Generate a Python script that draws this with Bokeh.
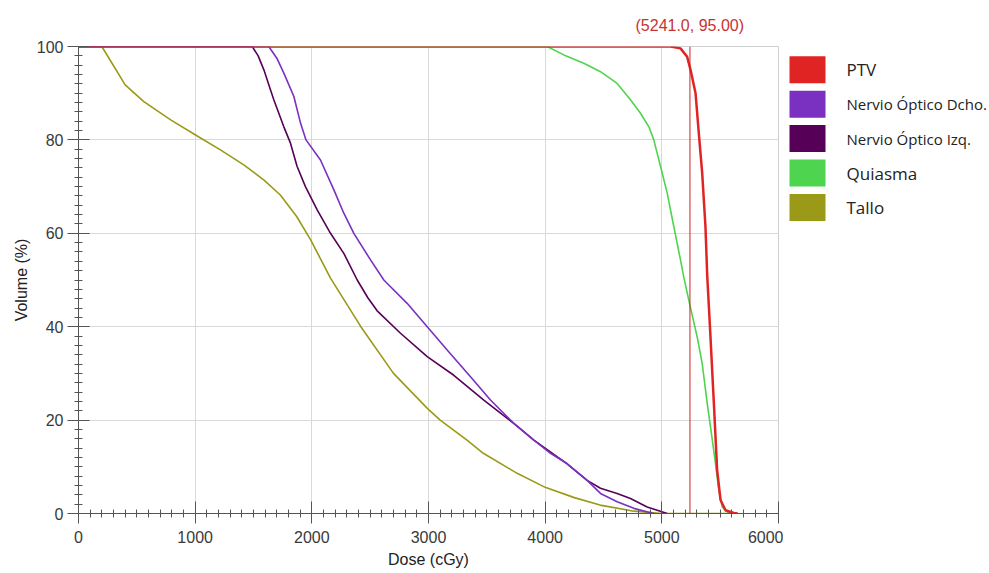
from bokeh.plotting import figure
from bokeh.models import Range1d, Span, FixedTicker
from bokeh.layouts import row
from bokeh.embed import file_html
from bokeh.resources import INLINE
from bokeh.core.properties import value

# ---------------- data ----------------
series_names = ["PTV", "Nervio Óptico Dcho.", "Nervio Óptico Izq.", "Quiasma", "Tallo"]
series_colors = ["#e02424", "#7a30c0", "#560058", "#4fd44f", "#9a9a18"]

ptv_dose = [0, 5074, 5160, 5217, 5246, 5289, 5317, 5346, 5374, 5389, 5417, 5446, 5474, 5503, 5546, 5617, 5650]
ptv_vol = [100, 100, 99.6, 97.8, 95, 90, 81.4, 72.9, 61.4, 51, 37.8, 23.6, 9.3, 2.9, 0.7, 0.1, 0]

dcho_dose = [0, 1631, 1700, 1760, 1846, 1903, 1950, 2074, 2189, 2274, 2360, 2503, 2617, 2817, 2989, 3160,
             3360, 3531, 3731, 3903, 4046, 4186, 4360, 4474, 4617, 4760, 4930]
dcho_vol = [100, 100, 97.5, 94.3, 89.3, 83.6, 80.0, 75.7, 69.3, 64.3, 60, 54.3, 50, 45, 40, 35,
            29.3, 24.3, 19.3, 15.7, 12.9, 10.7, 7.1, 4.3, 2.5, 1.1, 0]

izq_dose = [0, 1489, 1540, 1589, 1646, 1674, 1760, 1817, 1874, 1945, 2046, 2160, 2274, 2389, 2480, 2560,
            2760, 2989, 3217, 3474, 3731, 3903, 4186, 4360, 4474, 4617, 4731, 4874, 5046]
izq_vol = [100, 100, 98, 95, 90.7, 88.6, 82.8, 79.3, 74.3, 70, 65, 60, 55.7, 50, 46.2, 43.4,
           38.6, 33.6, 29.6, 24.3, 19.3, 15.7, 10.7, 7.1, 5.4, 4.3, 3.2, 1.4, 0]

quiasma_dose = [0, 4017, 4160, 4331, 4474, 4617, 4731, 4817, 4889, 4931, 4989, 5046, 5103, 5160, 5189,
                5231, 5303, 5346, 5389, 5417, 5460, 5489, 5517, 5560, 5600]
quiasma_vol = [100, 100, 98.2, 96.4, 94.6, 92.1, 88.6, 85.7, 82.8, 80.0, 74.3, 68.6, 61.4, 54.3, 50.5,
               45.7, 37.8, 32.1, 23.6, 18.6, 10.7, 5, 1.4, 0.3, 0]

tallo_dose = [0, 200, 400, 560, 790, 1000, 1220, 1420, 1590, 1730, 1870, 1990, 2160, 2420, 2700, 2990,
              3100, 3330, 3470, 3760, 4000, 4250, 4470, 4760, 5000, 5550]
tallo_vol = [100, 100, 91.8, 88.2, 84.3, 81.1, 77.8, 74.6, 71.4, 68.2, 63.6, 58.6, 50.4, 40, 30, 22.5,
             20, 15.7, 12.9, 8.6, 5.6, 3.4, 1.8, 0.5, 0, 0]

x_ticks = [0, 1000, 2000, 3000, 4000, 5000, 6000]
y_ticks = [0, 20, 40, 60, 80, 100]
cursor_dose = 5241.0
cursor_vol = 95.00

# ---------------- main figure ----------------
TOP, BOTTOM, FH = 46, 59, 467
p = figure(output_backend="svg", toolbar_location=None,
           frame_width=700, frame_height=FH,
           x_range=Range1d(0, 6000), y_range=Range1d(0, 100),
           min_border_left=78, min_border_right=5, min_border_top=TOP, min_border_bottom=BOTTOM)
p.background_fill_color = "white"
p.border_fill_color = "white"
p.outline_line_color = "#d0d0d0"

p.title.text = "(%.1f, %.2f)" % (cursor_dose, cursor_vol)
p.title.align = "left"
p.title.offset = 557
p.title.standoff = 25
p.title.text_font = "Liberation Sans"
p.title.text_font_size = "16px"
p.title.text_font_style = "normal"
p.title.text_color = "#c83232"

p.xaxis.ticker = FixedTicker(ticks=x_ticks, minor_ticks=list(range(0, 6001, 100)))
p.yaxis.ticker = FixedTicker(ticks=y_ticks, minor_ticks=list(range(0, 101, 2)))
p.xgrid.ticker = FixedTicker(ticks=x_ticks)
p.ygrid.ticker = FixedTicker(ticks=y_ticks)
p.grid.grid_line_color = "#d9d9d9"
p.grid.grid_line_width = 1

for ax in (p.xaxis, p.yaxis):
    ax.axis_line_color = "#555555"
    ax.major_tick_line_color = "#555555"
    ax.minor_tick_line_color = "#555555"
    ax.minor_tick_in = 4
    ax.minor_tick_out = 4
    ax.major_label_text_font = "Liberation Sans"
    ax.major_label_text_font_size = "16px"
    ax.major_label_text_color = "#3a3a3a"
    ax.axis_label_text_font = "Liberation Sans"
    ax.axis_label_text_font_size = "16px"
    ax.axis_label_text_font_style = "normal"
    ax.axis_label_text_color = "#222222"

p.xaxis.major_tick_in = 12
p.xaxis.major_tick_out = 10
p.yaxis.major_tick_in = 11
p.yaxis.major_tick_out = 11
p.xaxis.major_label_standoff = 7
p.yaxis.major_label_standoff = 4
p.xaxis.axis_label = "Dose (cGy)"
p.yaxis.axis_label = "Volume (%)"
p.xaxis.axis_label_standoff = 5
p.yaxis.axis_label_standoff = 4

curves = [(ptv_dose, ptv_vol), (dcho_dose, dcho_vol), (izq_dose, izq_vol),
          (quiasma_dose, quiasma_vol), (tallo_dose, tallo_vol)]
widths = [2.5, 1.6, 1.6, 1.6, 1.6]
order = [4, 3, 2, 1, 0]
for i in order:
    xs, ys = curves[i]
    p.line(xs, ys, line_color=series_colors[i], line_width=widths[i], line_join="round")

p.add_layout(Span(location=cursor_dose, dimension="height", line_color="#d02020", line_width=1))

# ---------------- legend figure (frame aligned with main frame) ----------------
LW = 205
lf = figure(output_backend="svg", toolbar_location=None, width=LW, height=TOP + FH + BOTTOM,
            x_range=Range1d(0, LW), y_range=Range1d(FH, 0),
            x_axis_type=None, y_axis_type=None,
            min_border_left=0, min_border_right=0, min_border_top=TOP, min_border_bottom=BOTTOM)
lf.outline_line_color = None
lf.grid.visible = False
lf.background_fill_color = "white"
lf.border_fill_color = "white"

row_y = [23.3 + 34.4 * i for i in range(len(series_names))]
lf.rect(x=[24] * len(series_names), y=row_y, width=36, height=27,
        fill_color=series_colors, line_color=None)
sizes = ["17px", "15px", "15px", "17px", "17px"]
for i, name in enumerate(series_names):
    lf.text(x=[63], y=[row_y[i]], text=[name], text_baseline="middle", text_align="left",
            text_font=value("Open Sans"), text_font_size=sizes[i], text_color="#222222")

layout = row(p, lf)
open("out.html", "w").write(file_html(layout, INLINE))
